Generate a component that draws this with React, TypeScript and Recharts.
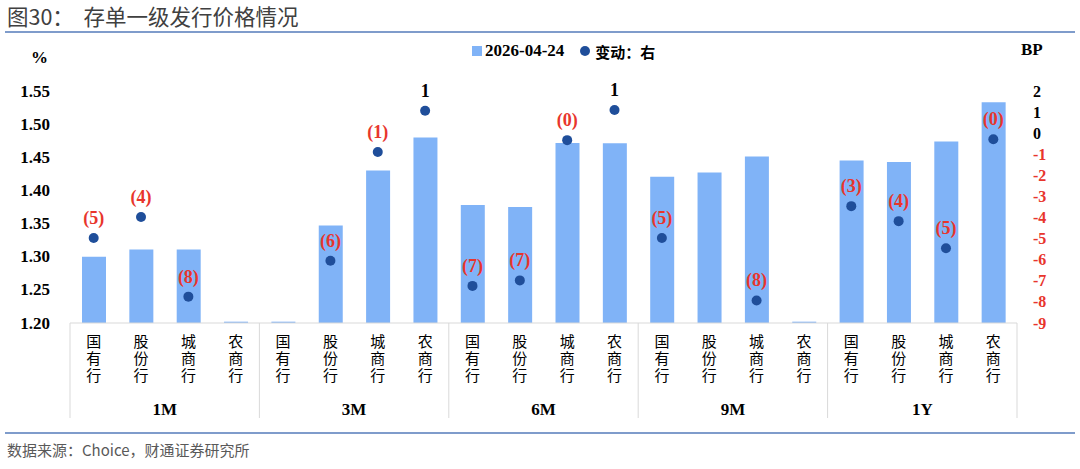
import React from 'react';
import { ComposedChart, Bar, Line, XAxis, YAxis, LabelList } from 'recharts';

const groups = ['1M', '3M', '6M', '9M', '1Y'];
const banks = ['国有行', '股份行', '城商行', '农商行'];
const rates = [
  1.300, 1.311, 1.311, 1.202,
  1.202, 1.347, 1.430, 1.480,
  1.378, 1.375, 1.4715, 1.471,
  1.4207, 1.427, 1.451, 1.202,
  1.445, 1.443, 1.474, 1.533,
];
const changes: (number | null)[] = [
  -4.97, -3.97, -7.75, null,
  null, -6.05, -0.89, 1.06,
  -7.24, -6.98, -0.33, 1.1,
  -4.97, null, -7.93, null,
  -3.46, -4.17, -5.46, -0.29,
];
const leftTicks = [1.2, 1.25, 1.3, 1.35, 1.4, 1.45, 1.5, 1.55];
const rightTicks = [-9, -8, -7, -6, -5, -4, -3, -2, -1, 0, 1, 2];
const seriesNames = ['2026-04-24', '变动：右'];

const data = rates.map((r, i) => ({
  key: `${groups[Math.floor(i / 4)]}|${banks[i % 4]}`,
  rate: r,
  chg: changes[i],
}));

const SERIF = "'Liberation Serif', 'Times New Roman', 'Noto Sans CJK SC', serif";
const BAR = '#80B3F7';
const DOT = '#1F4E9A';
const RED = '#E8352C';
const GRID = '#D9D9D9';

const CatTick = (props: any) => {
  const { x, y, payload } = props;
  const i: number = payload.index;
  const half: number = payload.offset || 23.7;
  const [g, b] = String(payload.value).split('|');
  return (
    <g>
      {i % 4 === 0 && <line x1={x - half} x2={x - half} y1={y} y2={y + 95} stroke={GRID} strokeWidth={1} />}
      {i === data.length - 1 && <line x1={x + half} x2={x + half} y1={y} y2={y + 95} stroke={GRID} strokeWidth={1} />}
      <text x={x} y={y + 11} writingMode="vertical-rl" textAnchor="start"
        fontFamily="'Noto Sans CJK SC', serif" fontSize={15} fill="#000" style={{ letterSpacing: 2 }}>{b}</text>
      {i % 4 === 1 && (
        <text x={x + half} y={y + 86} textAnchor="middle" dominantBaseline="central"
          fontFamily={SERIF} fontWeight="bold" fontSize={17} fill="#000">{g}</text>
      )}
    </g>
  );
};

const LeftTick = (props: any) => {
  const { x, y, payload } = props;
  return (
    <text x={x} y={y} textAnchor="end" dominantBaseline="central" fontFamily={SERIF}
      fontWeight="bold" fontSize={17} fill="#000">{Number(payload.value).toFixed(2)}</text>
  );
};

const RightTick = (props: any) => {
  const { x, y, payload } = props;
  const v = Number(payload.value);
  return (
    <text x={x} y={y} textAnchor="start" dominantBaseline="central" fontFamily={SERIF}
      fontWeight="bold" fontSize={16} fill={v < 0 ? RED : '#000'}>{v}</text>
  );
};

const DotLabel = (props: any) => {
  const { x, y, value } = props;
  if (value === null || value === undefined || isNaN(Number(value))) return null;
  const v = Number(value);
  const txt = v < 0 ? `(${Math.round(-v)})` : `${Math.round(v)}`;
  return (
    <text x={x} y={y - 20} textAnchor="middle" dominantBaseline="central" fontFamily={SERIF}
      fontWeight="bold" fontSize={18} fill={v < 0 ? RED : '#000'}>{txt}</text>
  );
};

export default function App() {
  return (
    <div style={{ position: 'absolute', left: 0, top: 0, width: 1080, height: 469, background: '#fff', overflow: 'hidden' }}>
      <div style={{ position: 'absolute', left: 7, top: 2, fontFamily: "'Noto Sans CJK SC', sans-serif", fontSize: 21.5, color: '#404040', whiteSpace: 'pre', lineHeight: '28px' }}>
        {'图30：  存单一级发行价格情况'}
      </div>
      <div style={{ position: 'absolute', left: 5, top: 31, width: 1070, height: 2, background: '#7F9CCB' }} />
      <div style={{ position: 'absolute', left: 31, top: 48, fontFamily: SERIF, fontWeight: 'bold', fontSize: 17, color: '#000' }}>%</div>
      <div style={{ position: 'absolute', left: 1021, top: 40, fontFamily: SERIF, fontWeight: 'bold', fontSize: 17, color: '#000' }}>BP</div>
      <div style={{ position: 'absolute', left: 472, top: 40, display: 'flex', alignItems: 'center', height: 22, fontFamily: SERIF, fontWeight: 'bold', fontSize: 17, color: '#000', whiteSpace: 'nowrap' }}>
        <span style={{ display: 'inline-block', width: 10, height: 10, background: BAR, marginRight: 3 }} />
        <span>{seriesNames[0]}</span>
        <span style={{ display: 'inline-block', width: 10, height: 10, borderRadius: 5, background: DOT, marginLeft: 16, marginRight: 5 }} />
        <span style={{ fontFamily: "'Noto Sans CJK SC', serif", fontWeight: 'bold', fontSize: 15 }}>{seriesNames[1]}</span>
      </div>
      <div style={{ position: 'absolute', left: 0, top: 0 }}>
        <ComposedChart width={1080} height={469} data={data} margin={{ top: 91, right: 13, bottom: 51, left: 8 }}>
          <XAxis dataKey="key" interval={0} tickLine={false} tickSize={0} tickMargin={0}
            axisLine={{ stroke: GRID, strokeWidth: 1 }} height={95} tick={<CatTick />} />
          <YAxis yAxisId="left" orientation="left" width={62} domain={[1.2, 1.55]} ticks={leftTicks} interval={0}
            axisLine={false} tickLine={false} tickSize={0} tickMargin={20} tick={<LeftTick />} allowDataOverflow />
          <YAxis yAxisId="right" orientation="right" width={50} domain={[-9, 2]} ticks={rightTicks} interval={0}
            axisLine={false} tickLine={false} tickSize={0} tickMargin={16} tick={<RightTick />} allowDataOverflow />
          <Bar yAxisId="left" dataKey="rate" name={seriesNames[0]} fill={BAR} barSize={24} isAnimationActive={false} />
          <Line yAxisId="right" dataKey="chg" name={seriesNames[1]} stroke="none" connectNulls={false}
            dot={{ r: 5, fill: DOT, stroke: 'none' }} activeDot={false} isAnimationActive={false}>
            <LabelList dataKey="chg" content={<DotLabel />} />
          </Line>
        </ComposedChart>
      </div>
      <div style={{ position: 'absolute', left: 5, top: 432, width: 1070, height: 2, background: '#7F9CCB' }} />
      <div style={{ position: 'absolute', left: 7, top: 440, fontFamily: "'Noto Sans CJK SC', sans-serif", fontSize: 15, color: '#595959', lineHeight: '20px' }}>
        数据来源：Choice，财通证券研究所
      </div>
    </div>
  );
}
